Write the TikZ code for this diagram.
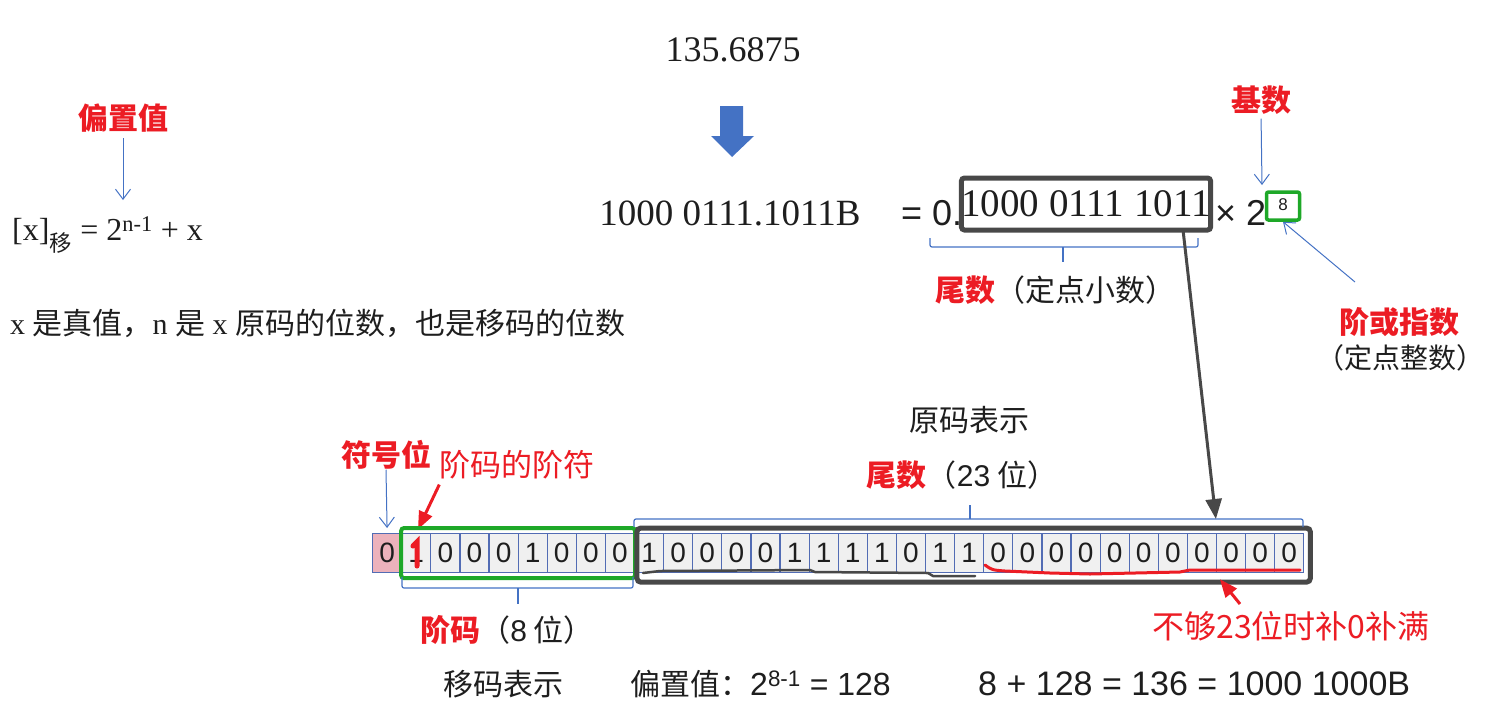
\documentclass[tikz,border=0pt]{standalone}
\usepackage{fontspec}
\setmainfont{Liberation Serif}
\setsansfont{Liberation Sans}
\newfontfamily\cjk{Noto Sans CJK SC}
\usetikzlibrary{positioning,arrows.meta,calc}

\definecolor{labelred}{RGB}{236,28,36}
\definecolor{arrowblue}{RGB}{68,114,196}
\definecolor{cellblue}{RGB}{82,108,180}
\definecolor{cellgray}{RGB}{240,240,240}
\definecolor{signpink}{RGB}{236,178,188}
\definecolor{boxgray}{RGB}{72,72,72}
\definecolor{boxgreen}{RGB}{30,168,40}
\definecolor{ink}{RGB}{30,30,30}

\newcommand\fsz[1]{\fontsize{#1}{#1}\selectfont}
\newcommand\zh[1]{{\cjk #1}}

\begin{document}
\begin{tikzpicture}[x=1pt, y=-1pt,
  cell/.style={draw=cellblue, fill=cellgray, line width=1.2pt, anchor=north west, minimum width=29.1pt, minimum height=39pt, inner sep=0pt, font=\sffamily\fsz{28}, text=ink},
  redtag/.style={text=labelred, font=\cjk\bfseries\fsz{30}, inner sep=0pt},
  txt/.style={text=ink, font=\fsz{30}, inner sep=0pt},
  zhtxt/.style={text=ink, font=\cjk\fsz{30}, inner sep=0pt},
  arr/.style={-{Straight Barb[length=10pt,width=15pt]}, draw=arrowblue, line width=1pt},
  redarr/.style={-{Triangle[length=18pt,width=14pt]}, draw=labelred, line width=3pt},
  grayarr/.style={-{Triangle[length=20pt,width=16pt]}, draw=boxgray, line width=3pt},
  brk/.style={draw=arrowblue, line width=1.2pt, rounded corners=2pt},
  scrawl/.style={line width=2.5pt, line cap=round, line join=round}
]
\useasboundingbox (0,0) rectangle (1503,724);

% decimal -> binary -> normalised form
\node[txt, font=\fsz{36}] (dec) at (733,50) {135.6875};
\fill[arrowblue] (720,106) -- (743,106) -- (743,136) -- (754,136) -- (732,157) -- (711,136) -- (720,136) -- cycle;
\node[txt, font=\fsz{37}] (bin) at (730,213) {1000 0111.1011B};
\node[txt, font=\sffamily\fsz{36}, anchor=west] (eq) at (901,213) {= 0.};
\node[draw=boxgray, line width=5pt, rounded corners=3pt, minimum width=248pt, minimum height=52pt, inner sep=0pt, font=\fsz{39}, text=ink] (mant) at (1086,204) {1000 0111 1011};
\node[txt, font=\sffamily\fsz{36}, anchor=west] (times) at (1215,213) {× 2};
\node[draw=boxgreen, line width=3.5pt, rounded corners=2pt, minimum width=33pt, minimum height=28pt, inner sep=0pt, font=\sffamily\fsz{17}, text=ink] (pow) at (1283,206) {\raisebox{3pt}{8}\hspace{12pt}};

\node[redtag] (radix) at (1261,100) {基数};
\coordinate (radixtip) at (1262,185);
\draw[arr, shorten <=4pt] (radix.south) -- (radixtip);

\node[redtag] (order) at (1399,322) {阶或指数};
\node[zhtxt, font=\cjk\fsz{28}] (ordernote) at (1400,358) {（定点整数）};
\coordinate (ordertail) at (1355,282);
\draw[arr] (ordertail) -- (pow.south);

\draw[brk] (930,238) |- (1198,247) -- (1198,238);
\draw[brk] (1063,247) -- (1063,262);
\node[zhtxt] (mantlbl) at (1055,290) {\textcolor{labelred}{\bfseries 尾数}（定点小数）};

% excess code
\node[redtag] (bias) at (123,118) {偏置值};
\node[txt, anchor=west, font=\fsz{32}] (shift) at (12,235) {[x]\textsubscript{\zh{移}} = 2\textsuperscript{n-1} + x};
\coordinate (biastip) at (123,200);
\draw[arr, shorten <=6pt] (bias.south) -- (biastip);
\node[txt, anchor=west] (truth) at (10,323) {x \zh{是真值，}n \zh{是} x \zh{原码的位数，也是移码的位数}};

% 32-bit layout
\node[zhtxt] (ycode) at (969,420) {原码表示};
\node[zhtxt] (mantbits) at (962,475) {\textcolor{labelred}{\bfseries 尾数}（{\sffamily 23} 位）};
\node[redtag] (sign) at (386,455) {符号位};
\node[text=labelred, font=\cjk\fsz{31}, inner sep=0pt] (signnote) at (517,465) {阶码的阶符};

\node[cell, fill=signpink] (c0) at (372,533) {0};
\foreach \b [count=\i from 1] in {1,0,0,0,1,0,0,0,1,0,0,0,0,1,1,1,1,0,1,1,0,0,0,0,0,0,0,0,0,0,0}
  \node[cell] (c\i) at ({372+29.1*\i},533) {\b};

\draw[arr, shorten >=5pt] (sign.south) -- (c0.north);
\draw[redarr, shorten >=4pt] ($(signnote.south west)+(0,5)$) -- (c1.north);
\draw[labelred, line width=5pt, line cap=round] (413,546) -- (417,542) -- (417,566);

\draw[boxgreen, line width=4pt, rounded corners=3pt] ($(c1.north west)+(0,-5)$) rectangle ($(c8.south east)+(0,5)$);
\draw[boxgray, line width=5pt, rounded corners=4pt] ($(c9.north west)+(3,-5)$) rectangle ($(c31.south east)+(6,9)$);

\draw[scrawl, boxgray] (643,573) -- (660,571) -- (810,570) -- (815,572) -- (928,573) -- (933,576) -- (975,576);
\draw[scrawl, labelred, line width=3pt] (985,565) .. controls (992,570) .. (1005,571) -- (1050,573) -- (1090,574) -- (1180,572) -- (1190,570) -- (1300,570);

\draw[brk] (634,527) |- (1303,519) -- (1303,527);
\draw[brk] (970,519) -- (970,505);
\draw[brk] (402,577) |- (633,588) -- (633,577);
\draw[brk] (518,588) -- (518,604);

\coordinate (manttail) at ($(mant.south east)+(-30,-2)$);
\coordinate (manttip) at ($(c29.north west)+(0,-14)$);
\draw[grayarr] (manttail) -- (manttip);

\node[zhtxt] (explbl) at (507,630) {\textcolor{labelred}{\bfseries 阶码}（{\sffamily 8} 位）};
\node[text=labelred, font=\cjk\fsz{32}, inner sep=0pt] (pad) at (1291,626) {不够23位时补0补满};
\coordinate (padtail) at (1240,604);
\draw[redarr] (padtail) -- ($(c29.south west)+(4,6)$);

% bias arithmetic
\node[zhtxt] (bcode) at (503,684) {移码表示};
\node[zhtxt, anchor=west] (biasval) at (630,684) {偏置值：{\sffamily\fsz{32}2\textsuperscript{8-1} = 128}};
\node[txt, anchor=west, font=\sffamily\fsz{34}] (sum) at (978,684) {8 + 128 = 136 = 1000 1000B};
\end{tikzpicture}
\end{document}
